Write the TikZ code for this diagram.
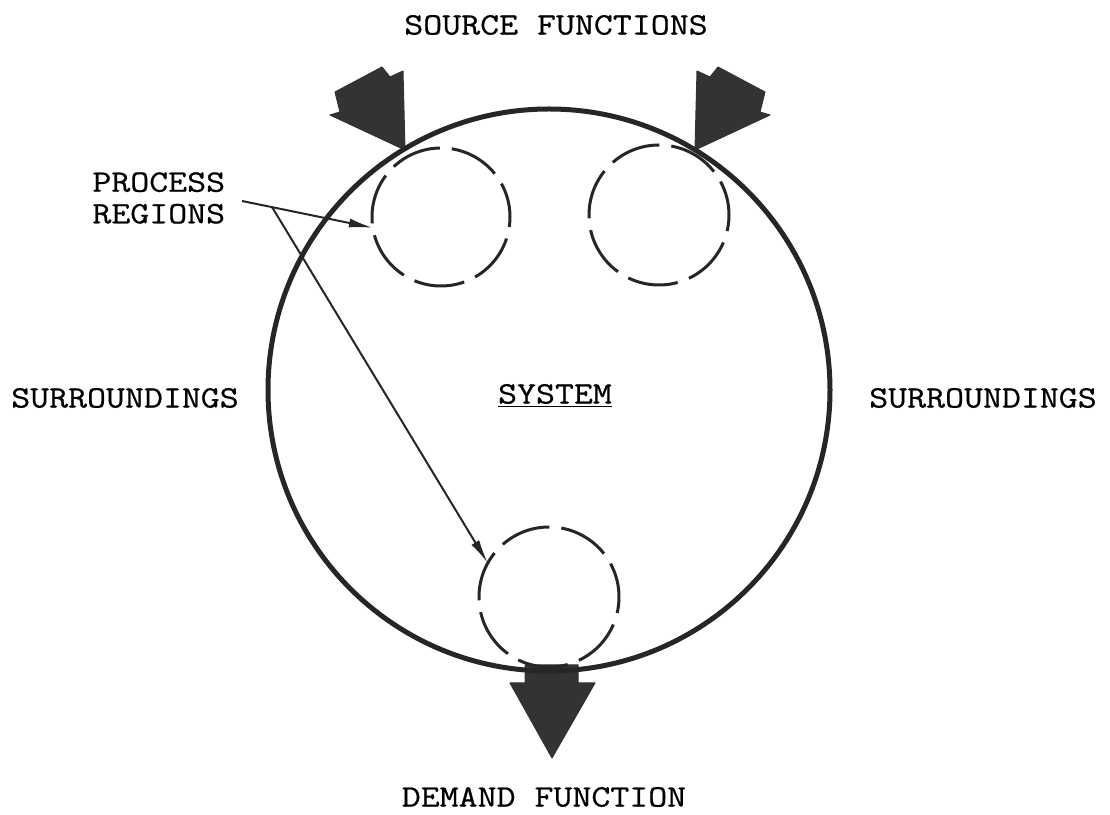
\documentclass[tikz,border=0pt]{standalone}
\usepackage{fontspec}
\setmonofont{Latin Modern Mono}[FakeStretch=1.18, FakeBold=0.6]
\usetikzlibrary{arrows.meta}

\begin{document}
\begin{tikzpicture}[x=0.5pt, y=0.5pt,
		>={Latex[length=12pt,width=4.5pt]},   %Pfeilspitzen
		font=\ttfamily\fontsize{15.6}{15.8}\selectfont,
		region/.style={draw=black!85, circle, line width=1.5pt, dash pattern=on 25.4pt off 6pt, dash phase=8pt, inner sep=0pt, outer sep=0pt, minimum size=#1},
		flow/.style={fill=black!80, draw=black!80, line width=0.5pt, line join=round}]
		\useasboundingbox (0,0) rectangle (1110,815);
		% Zu- und Abfluss
		\foreach \xpos/\side in {405/1, 695/-1}
			\filldraw[flow, shift={(\xpos,665)}, xscale=\side] (0,0) -- (-2,79) -- (-15,73) -- (-23,83) -- (-70,58) -- (-65,38) -- (-75,35) -- cycle;
		\filldraw[flow] (525,150) -- (578,150) -- (578,132) -- (595,132) -- (552,57) -- (510,132) -- (525,132) -- cycle;
		% System und Prozessbereiche
		\node[draw=black!85, circle, line width=2.5pt, inner sep=0pt, outer sep=0pt, minimum size=281pt] (system) at (549,425) {};
		\node[region=69pt] (pr1) at (441,598) {};
		\node[region=70pt] (pr2) at (659,600) {};
		\node[region=70pt] (pr3) at (549,218) {};
		% Beschriftung
		\node (source) at (556,790) {SOURCE FUNCTIONS};
		\node (demand) at (544,18) {DEMAND FUNCTION};
		\node (survleft) at (125,417) {SURROUNDINGS};
		\node (survright) at (983,417) {SURROUNDINGS};
		\node (syslabel) at (555,419) {\underline{SYSTEM}};
		\node[anchor=west, align=left, inner sep=0pt] (prlabel) at (92,617) {PROCESS\\REGIONS};
		% Zeiger
		\coordinate (prstart) at (242,614);
		\coordinate (prsplit) at (272,608);
		\draw[->, line width=1pt, black!85] (prstart) -- (pr1.189);
		\draw[->, line width=1pt, black!85] (prsplit) -- (pr3.151);
	\end{tikzpicture}
\end{document}
